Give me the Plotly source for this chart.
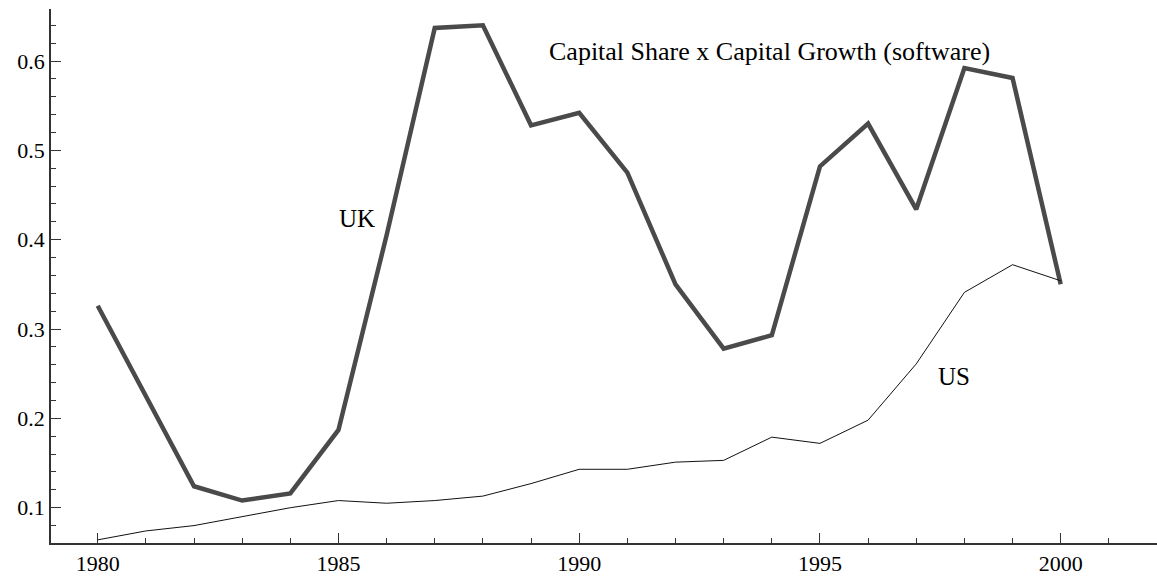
import plotly.graph_objects as go

years = list(range(1980, 2001))
uk = [0.326, 0.224, 0.124, 0.108, 0.116, 0.187, 0.405, 0.637, 0.640, 0.528,
      0.542, 0.475, 0.350, 0.278, 0.293, 0.482, 0.530, 0.434, 0.592, 0.581, 0.350]
us = [0.064, 0.074, 0.080, 0.090, 0.100, 0.108, 0.105, 0.108, 0.113, 0.127,
      0.143, 0.143, 0.151, 0.153, 0.179, 0.172, 0.198, 0.261, 0.341, 0.372, 0.354]

title_text = "Capital Share x Capital Growth (software)"
labels = ["UK", "US"]
label_pos = [(1985.38, 0.424), (1997.79, 0.2465)]
title_pos = (1993.96, 0.6104)

FONT = "Liberation Serif, Times New Roman, serif"

fig = go.Figure()
fig.add_trace(go.Scatter(x=years, y=uk, mode="lines", name="UK",
                         line=dict(color="#4a4a4a", width=4.5)))
fig.add_trace(go.Scatter(x=years, y=us, mode="lines", name="US",
                         line=dict(color="#111111", width=1)))

for t, (lx, ly) in zip(labels, label_pos):
    fig.add_annotation(x=lx, y=ly, text=t, showarrow=False,
                       font=dict(family=FONT, size=25, color="black"),
                       xanchor="center", yanchor="middle")
fig.add_annotation(x=title_pos[0], y=title_pos[1], text=title_text, showarrow=False,
                   font=dict(family=FONT, size=26, color="black"),
                   xanchor="center", yanchor="middle")

axis_common = dict(showgrid=False, zeroline=False, showline=True, linecolor="#333333",
                   linewidth=1.5, ticks="inside", ticklen=10, tickwidth=1.2,
                   tickcolor="#333333", tickfont=dict(family=FONT, size=22, color="black"))

fig.update_xaxes(range=[1979.03, 2002], tick0=1980, dtick=5,
                 minor=dict(ticks="inside", ticklen=5, dtick=1, tick0=1980,
                            tickcolor="#333333", tickwidth=1.2, showgrid=False),
                 **axis_common)
fig.update_yaxes(range=[0.0605, 0.6582], tick0=0, dtick=0.1,
                 minor=dict(ticks="inside", ticklen=5, dtick=0.02, tick0=0,
                            tickcolor="#333333", tickwidth=1.2, showgrid=False),
                 **axis_common)

fig.update_layout(width=1157, height=579, showlegend=False,
                  paper_bgcolor="white", plot_bgcolor="white",
                  margin=dict(l=51, r=0, t=9, b=36))

fig.write_html("out.html",
               config={"displayModeBar": False},
               post_script="document.body.style.margin='0';document.body.style.overflow='hidden';")
